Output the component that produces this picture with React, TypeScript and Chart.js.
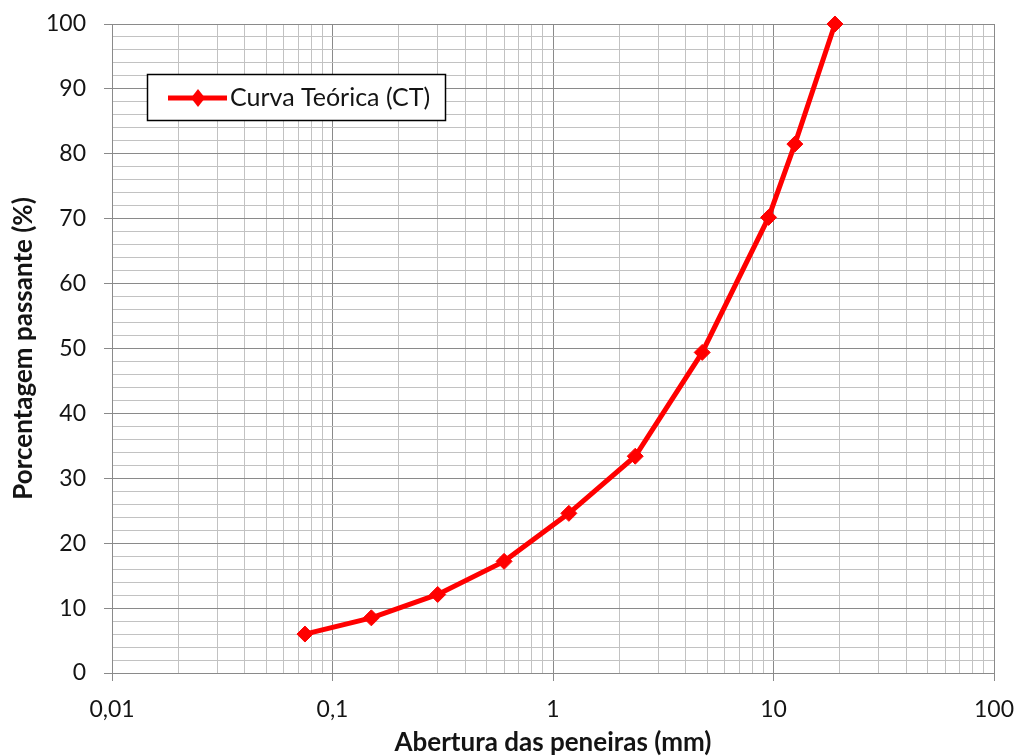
import React, { useEffect, useRef } from 'react';
import { Chart, registerables } from 'chart.js';

Chart.register(...registerables);

const sieveSizes = [0.075, 0.15, 0.3, 0.6, 1.18, 2.36, 4.75, 9.5, 12.5, 19];
const passingPercent = [6.0, 8.5, 12.1, 17.2, 24.6, 33.4, 49.4, 70.2, 81.5, 100];
const seriesLabel = 'Curva Teórica (CT)';
const xTitle = 'Abertura das peneiras (mm)';
const yTitle = 'Porcentagem passante (%)';
const xDecades = [0.01, 0.1, 1, 10, 100];
const xTickLabels = ['0,01', '0,1', '1', '10', '100'];

const FONT = 'Lato';
const TEXT = '#141414';
const MAJOR = '#8a8a8a';
const MINOR = '#c2c2c2';
const RED = '#ff0000';

const isDecade = (v: number) => {
  const l = Math.log10(v);
  return Math.abs(l - Math.round(l)) < 1e-9;
};

const legendPlugin = {
  id: 'boxLegend',
  afterDraw(chart: any) {
    const ctx = chart.ctx;
    ctx.save();
    const x0 = 147.5, y0 = 74.5, w = 298, h = 46;
    ctx.fillStyle = '#ffffff';
    ctx.fillRect(x0, y0, w, h);
    ctx.strokeStyle = '#000000';
    ctx.lineWidth = 1.5;
    ctx.strokeRect(x0, y0, w, h);
    const cy = 98;
    ctx.strokeStyle = RED;
    ctx.lineWidth = 5;
    ctx.beginPath();
    ctx.moveTo(168, cy);
    ctx.lineTo(227, cy);
    ctx.stroke();
    ctx.fillStyle = RED;
    ctx.beginPath();
    ctx.moveTo(198, cy - 9);
    ctx.lineTo(198 + 7, cy);
    ctx.lineTo(198, cy + 9);
    ctx.lineTo(198 - 7, cy);
    ctx.closePath();
    ctx.fill();
    ctx.fillStyle = TEXT;
    ctx.font = `25px ${FONT}`;
    ctx.textBaseline = 'middle';
    ctx.textAlign = 'left';
    ctx.fillText(seriesLabel, 230, cy);
    ctx.restore();
  },
};

export default function App() {
  const ref = useRef<HTMLCanvasElement | null>(null);

  useEffect(() => {
    document.body.style.margin = '0';
    const canvas = ref.current!;
    const chart = new Chart(canvas, {
      type: 'line',
      data: {
        datasets: [
          {
            label: seriesLabel,
            data: sieveSizes.map((x, i) => ({ x, y: passingPercent[i] })),
            borderColor: RED,
            backgroundColor: RED,
            borderWidth: 5,
            pointStyle: 'rectRot',
            pointRadius: 8,
            pointBorderWidth: 1,
            pointBackgroundColor: RED,
            pointBorderColor: RED,
            tension: 0,
            fill: false,
            clip: false as any,
          },
        ],
      },
      options: {
        responsive: false,
        animation: false,
        devicePixelRatio: 1,
        layout: { padding: { top: 24, right: 24, bottom: 0, left: 0 } },
        plugins: {
          legend: { display: false },
          tooltip: { enabled: false },
        },
        scales: {
          x: {
            type: 'logarithmic',
            min: 0.01,
            max: 100,
            afterBuildTicks(scale: any) {
              const ticks: { value: number }[] = [];
              for (let d = 0; d < xDecades.length - 1; d++) {
                for (let m = 1; m <= 9; m++) {
                  ticks.push({ value: parseFloat((xDecades[d] * m).toPrecision(6)) });
                }
              }
              ticks.push({ value: xDecades[xDecades.length - 1] });
              scale.ticks = ticks;
            },
            afterFit(scale: any) {
              scale.height = 83;
              scale.paddingLeft = 0;
              scale.paddingRight = 0;
            },
            ticks: {
              autoSkip: false,
              maxRotation: 0,
              padding: 15,
              color: TEXT,
              font: { family: FONT, size: 23 },
              callback(value: any) {
                const v = Number(value);
                if (!isDecade(v)) return '';
                const idx = xDecades.findIndex((d) => Math.abs(d - v) / d < 1e-6);
                return idx >= 0 ? xTickLabels[idx] : '';
              },
            },
            grid: {
              color: (c: any) => (c.tick && isDecade(c.tick.value) ? MAJOR : MINOR),
              tickColor: (c: any) => (c.tick && isDecade(c.tick.value) ? MAJOR : 'rgba(0,0,0,0)'),
              tickLength: 8,
              lineWidth: 1,
            },
            border: { display: true, color: MAJOR, width: 1 },
            title: {
              display: true,
              text: xTitle,
              color: TEXT,
              font: { family: FONT, size: 26, weight: 'bold', lineHeight: 1 },
              padding: { top: 0, bottom: 0 },
            },
          },
          y: {
            type: 'linear',
            min: 0,
            max: 100,
            afterFit(scale: any) {
              scale.width = 112;
              scale.paddingTop = 0;
              scale.paddingBottom = 0;
            },
            ticks: {
              stepSize: 2,
              autoSkip: false,
              padding: 18,
              color: TEXT,
              font: { family: FONT, size: 23 },
              callback(value: any) {
                const v = Number(value);
                return v % 10 === 0 ? String(v) : '';
              },
            },
            grid: {
              color: (c: any) => (c.tick && c.tick.value % 10 === 0 ? MAJOR : MINOR),
              tickColor: (c: any) => (c.tick && c.tick.value % 10 === 0 ? MAJOR : 'rgba(0,0,0,0)'),
              tickLength: 8,
              lineWidth: 1,
            },
            border: { display: true, color: MAJOR, width: 1 },
            title: {
              display: true,
              text: yTitle,
              color: TEXT,
              font: { family: FONT, size: 26, weight: 'bold', lineHeight: 1 },
              padding: { top: 11, bottom: 0 },
            },
          },
        },
      },
      plugins: [legendPlugin],
    } as any);
    return () => chart.destroy();
  }, []);

  return (
    <div style={{ position: 'absolute', left: 0, top: 0, width: 1018, height: 756, background: '#fff' }}>
      <canvas ref={ref} width={1018} height={756} style={{ width: 1018, height: 756, display: 'block' }} />
    </div>
  );
}
